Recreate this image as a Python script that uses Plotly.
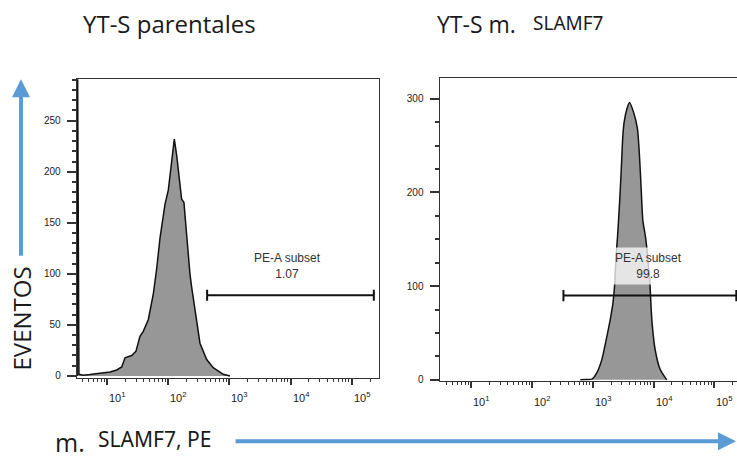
import numpy as np
import plotly.graph_objects as go

W, H = 737, 458

# ---- data ----
left_x = [3.25, 3.3, 3.48, 4.1, 5.27, 7.7, 11.2, 14.4, 17.4, 19.7, 25.3, 29.8, 34.6, 39.2, 47.3,
          57.1, 64.9, 73.5, 88.7, 100.5, 114, 126, 137.8, 156, 166, 181, 200, 227, 242,
          292, 331, 426, 545, 794, 1020]
left_y = [0, 320, 1.6, 0.7, 1.3, 2.6, 3.9, 5.8, 8.7, 17.7, 20, 24.2, 38.8, 43.6, 55,
          80, 105, 135, 168, 182, 208, 232, 216, 191, 173, 170, 136, 100, 87,
          55, 32, 16, 8, 1.6, 0]
right_x = [624, 780, 970, 1172, 1416, 1711, 1938, 2147, 2281, 2432, 2554, 2754, 2937, 3133,
           3290, 3645, 4020, 4677, 5442, 5866, 6255, 6670, 7400, 8570, 8790, 9380, 10620,
           12830, 16520]
right_y = [0, 0.3, 0.7, 7.7, 21.9, 46.5, 64, 81.6, 99, 134, 152, 187, 222.5, 261,
           275, 289, 296, 286, 268, 240, 205, 170, 152, 110, 99, 64, 32.4,
           11.3, 0]
left_gate = [433, 230000]
left_gate_y = 79
right_gate = [330, 230000]
right_gate_y = 90
left_label = ["PE-A subset", "1.07"]
right_label = ["PE-A subset", "99.8"]
x_tick_exp = [1, 2, 3, 4, 5]

FILL = "#979797"
AX = "#333333"
BLUE = "#5B9BD5"

def px_x(p):
    return p / W

def px_y(p):
    return 1 - p / H

fig = go.Figure()

fig.add_trace(go.Scatter(x=left_x, y=left_y, mode="lines", fill="tozeroy",
                         fillcolor=FILL, line=dict(color="#111111", width=1.5),
                         xaxis="x", yaxis="y", showlegend=False, hoverinfo="skip"))
fig.add_trace(go.Scatter(x=right_x, y=right_y, mode="lines", fill="tozeroy",
                         fillcolor=FILL, line=dict(color="#111111", width=1.5, shape="spline", smoothing=0.6),
                         xaxis="x2", yaxis="y2", showlegend=False, hoverinfo="skip"))

def gate(xs, yv, cap, xa, ya):
    gx = [xs[0], xs[1], None, xs[0], xs[0], None, xs[1], xs[1]]
    gy = [yv, yv, None, yv - cap, yv + cap, None, yv - cap, yv + cap]
    fig.add_trace(go.Scatter(x=gx, y=gy, mode="lines", line=dict(color="#111111", width=2),
                             xaxis=xa, yaxis=ya, showlegend=False, hoverinfo="skip"))

gate(left_gate, left_gate_y, 5.5, "x", "y")
gate(right_gate, right_gate_y, 6, "x2", "y2")

common_x = dict(type="log", showgrid=False, zeroline=False, showline=True, linecolor=AX,
                linewidth=1, ticks="outside", ticklen=6, tickcolor=AX, tickwidth=1.5,
                tickmode="linear", tick0=0, dtick=1, showticklabels=False,
                minor=dict(ticks="outside", ticklen=3, tickcolor=AX, dtick="D1", tickwidth=1))
common_y = dict(showgrid=False, zeroline=False, showline=True, linecolor=AX, linewidth=1,
                ticks="outside", ticklen=9, tickcolor=AX, tickwidth=1.5,
                tickfont=dict(family="Liberation Sans, Arial", size=10, color="#222222"),
                ticklabelstandoff=4)

fig.update_layout(
    width=W, height=H, margin=dict(l=0, r=0, t=0, b=0),
    paper_bgcolor="white", plot_bgcolor="white",
    xaxis=dict(domain=[px_x(76.7), px_x(379)], range=[0.505, 5.446], anchor="y",
               mirror=True, **common_x),
    yaxis=dict(domain=[px_y(381.7), px_y(80)], range=[-1.6, 290.7], anchor="x",
               mirror=True, dtick=50, tick0=0,
               minor=dict(ticks="outside", ticklen=4, dtick=10, tickcolor=AX), **common_y),
    xaxis2=dict(domain=[px_x(439.5), 1.0], range=[0.48, 5.373], anchor="y2",
                mirror=True, **common_x),
    yaxis2=dict(domain=[px_y(385), px_y(79)], range=[-1, 322], anchor="x2",
                mirror=False, dtick=100, tick0=0,
                minor=dict(ticks="outside", ticklen=4, dtick=25, tickcolor=AX), **common_y),
)

ann = []
# x tick labels (FlowJo style, offset right of tick)
for k in x_tick_exp:
    ann.append(dict(x=k, xref="x", y=px_y(392), yref="paper", xanchor="left", yanchor="top",
                    text=f"10<sup>{k}</sup>", showarrow=False, xshift=0,
                    font=dict(family="Liberation Sans, Arial", size=11, color="#222222")))
    ann.append(dict(x=k, xref="x2", y=px_y(396), yref="paper", xanchor="left", yanchor="top",
                    text=f"10<sup>{k}</sup>", showarrow=False, xshift=0,
                    font=dict(family="Liberation Sans, Arial", size=11, color="#222222")))

# gate labels
ann.append(dict(x=np.log10(9080), xref="x", y=108, yref="y", text="<br>".join(left_label),
                showarrow=False, font=dict(family="Liberation Sans, Arial", size=12, color="#333333")))
ann.append(dict(x=np.log10(8150), xref="x2", y=121.5, yref="y2", text="<br>".join(right_label),
                showarrow=False, bgcolor="rgba(255,255,255,0.75)", borderpad=3,
                font=dict(family="Liberation Sans, Arial", size=12, color="#333333")))

# titles
TF = "Open Sans"
ann.append(dict(x=px_x(81), y=px_y(24), xref="paper", yref="paper", xanchor="left", yanchor="middle",
                text="YT-S parentales", showarrow=False, font=dict(family=TF, size=24, color="#1a1a1a")))
ann.append(dict(x=px_x(435), y=px_y(24), xref="paper", yref="paper", xanchor="left", yanchor="middle",
                text="YT-S m.", showarrow=False, font=dict(family=TF, size=23, color="#1a1a1a")))
ann.append(dict(x=px_x(531), y=px_y(23), xref="paper", yref="paper", xanchor="left", yanchor="middle",
                text="SLAMF7", showarrow=False, font=dict(family="Noto Sans", size=19, color="#1a1a1a")))
ann.append(dict(x=px_x(53), y=px_y(447), xref="paper", yref="paper", xanchor="left", yanchor="middle",
                text="m.", showarrow=False, font=dict(family=TF, size=25, color="#1a1a1a")))
ann.append(dict(x=px_x(96), y=px_y(444), xref="paper", yref="paper", xanchor="left", yanchor="middle",
                text="SLAMF7, PE", showarrow=False, font=dict(family="Noto Sans", size=21, color="#1a1a1a")))
ann.append(dict(x=px_x(21), y=px_y(322), xref="paper", yref="paper", xanchor="center", yanchor="middle",
                text="EVENTOS", textangle=-90, showarrow=False, font=dict(family=TF, size=24, color="#1a1a1a")))

# blue arrows
ann.append(dict(x=px_x(21), y=px_y(80), xref="paper", yref="paper", ax=0, ay=178, text="",
                showarrow=True, arrowhead=2, arrowsize=0.9, arrowwidth=4, arrowcolor=BLUE))
ann.append(dict(x=px_x(736), y=px_y(446), xref="paper", yref="paper", ax=-502, ay=0, text="",
                showarrow=True, arrowhead=2, arrowsize=0.9, arrowwidth=4, arrowcolor=BLUE))

fig.update_layout(annotations=ann)
fig.write_html("out.html")
